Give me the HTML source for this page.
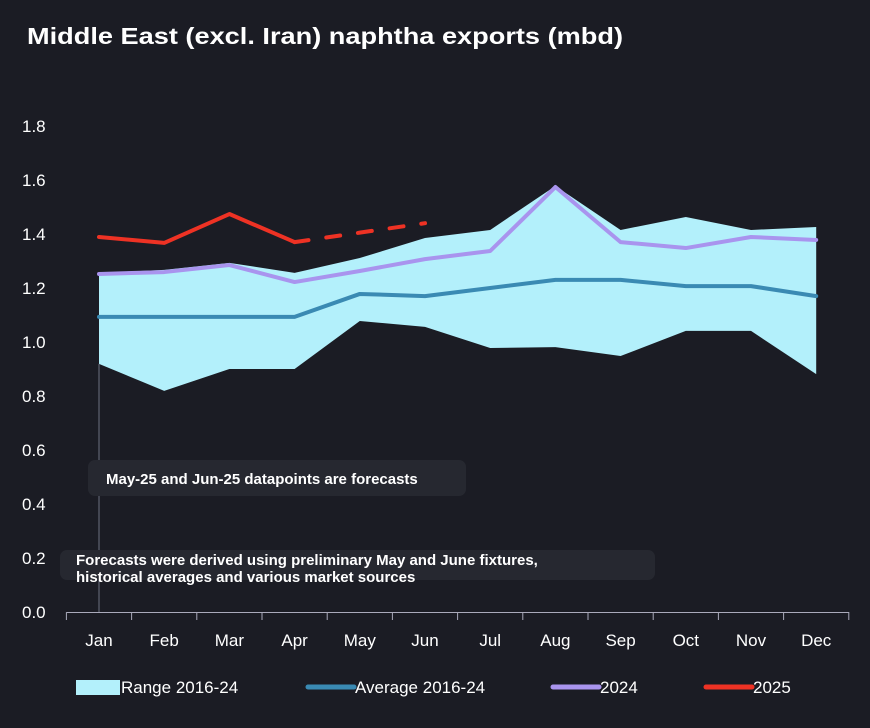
<!DOCTYPE html>
<html><head><meta charset="utf-8"><style>
body{margin:0;background:#1b1c24;font-family:"Liberation Sans",sans-serif;}
#wrap{position:relative;width:870px;height:728px;overflow:hidden;background:#1b1c24}
</style></head><body>
<div id="wrap">
<svg id="chart" width="870" height="728">
<text x="27" y="44" fill="#fff" font-size="23" font-weight="bold" textLength="596" lengthAdjust="spacingAndGlyphs">Middle East (excl. Iran) naphtha exports (mbd)</text>
</svg>
</div>
<script>
const months=["Jan","Feb","Mar","Apr","May","Jun","Jul","Aug","Sep","Oct","Nov","Dec"];
const rangeHigh=[1.256,1.267,1.293,1.256,1.311,1.385,1.415,1.578,1.415,1.463,1.415,1.426];
const rangeLow=[0.919,0.819,0.9,0.9,1.078,1.056,0.978,0.981,0.948,1.041,1.041,0.881];
const avg=[1.093,1.093,1.093,1.093,1.178,1.17,1.2,1.23,1.23,1.207,1.207,1.17];
const y2024=[1.252,1.259,1.285,1.222,1.263,1.307,1.337,1.574,1.37,1.348,1.389,1.378];
const y2025=[1.389,1.367,1.474,1.37];
const y2025f=[1.37,1.405,1.44];
const yTicks=[0,0.2,0.4,0.6,0.8,1.0,1.2,1.4,1.6,1.8];
const NS="http://www.w3.org/2000/svg";
const svg=document.getElementById('chart');
const X=i=>99+i*65.2;
const Y=v=>612-v*270;
function mk(t,a){const e=document.createElementNS(NS,t);for(const k in a)e.setAttribute(k,a[k]);svg.appendChild(e);return e;}
yTicks.forEach(v=>{const t=mk('text',{x:22,y:Y(v)+6,fill:'#fff','font-size':17});t.textContent=v.toFixed(1);

});
let pts=rangeHigh.map((v,i)=>X(i)+','+Y(v)).concat(rangeLow.map((v,i)=>X(i)+','+Y(v)).reverse()).join(' ');
const area=mk('polygon',{points:pts,fill:'#b3f0fb'});


const vl=mk('line',{x1:X(0),x2:X(0),y1:Y(rangeLow[0]),y2:612,stroke:'#6b7080','stroke-width':1});


const ax=mk('line',{x1:67,x2:849,y1:612.5,y2:612.5,stroke:'#aab','stroke-width':1});


for(let i=0;i<=12;i++){const tk=mk('line',{x1:X(i)-32.6,x2:X(i)-32.6,y1:612,y2:620,stroke:'#aab'});

}
months.forEach((m,i)=>{const t=mk('text',{x:X(i),y:646,fill:'#fff','font-size':17,'text-anchor':'middle'});t.textContent=m;

});
function line(arr,off,col,name,dash){const p=arr.map((v,i)=>X(i+off)+','+Y(v)).join(' ');
const e=mk('polyline',{points:p,fill:'none',stroke:col,'stroke-width':4,'stroke-linejoin':'round','stroke-linecap':'round'});
if(dash)e.setAttribute('stroke-dasharray',dash);

}
line(avg,0,'#3a8ab3','average-line');
line(y2024,0,'#a994ee','line-2024');
line(y2025,0,'#ee3224','line-2025');
line(y2025f,3,'#ee3224','line-2025-forecast','14 18');
function note(x,y,w,h,lines,name){const r=mk('rect',{x:x,y:y,width:w,height:h,rx:7,fill:'#262830'});


lines.forEach((s,i)=>{const t=mk('text',{x:x+(name==='forecast-note'?18:16),y:y+24+i*18,fill:'#fff','font-size':15,'font-weight':'bold'});t.textContent=s;

});}
note(88,460,378,36,['May-25 and Jun-25 datapoints are forecasts'],'forecast-note');
note(60,550,595,30,['Forecasts were derived using preliminary May and June fixtures,','historical averages and various market sources'],'method-note');
svg.lastChild.previousSibling.setAttribute('y',565);svg.lastChild.setAttribute('y',582);
const leg=[['rect','#b3f0fb','Range 2016-24',76],['line','#3a8ab3','Average 2016-24',308],['line','#a994ee','2024',553],['line','#ee3224','2025',706]];
leg.forEach(l=>{let s;
if(l[0]==='rect')s=mk('rect',{x:l[3],y:680,width:44,height:15,fill:l[1]});
else s=mk('line',{x1:l[3],x2:l[3]+46,y1:687,y2:687,stroke:l[1],'stroke-width':5,'stroke-linecap':'round'});


const t=mk('text',{x:l[3]+(l[0]==='rect'?45:47),y:693,fill:'#fff','font-size':17});t.textContent=l[2];

});
</script>
</body></html>
